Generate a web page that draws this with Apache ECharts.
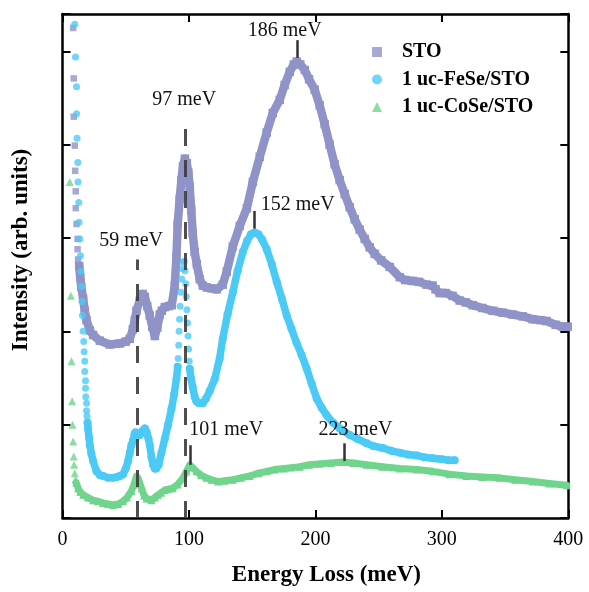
<!DOCTYPE html>
<html>
<head>
<meta charset="utf-8">
<script src="https://cdn.jsdelivr.net/npm/echarts@6/dist/echarts.min.js"></script>
<style>
  html, body { margin: 0; padding: 0; background: #fff; }
  #chart { width: 589px; height: 592px; }
</style>
</head>
<body>
<div id="chart"></div>
<script>
// x: energy loss (meV), y: intensity (arb. units, offset spectra)
const stoSparse = [[8.4,5.25],[8.9,4.71],[8.9,4.30],[9.7,3.99],[10.0,3.72],[10.5,3.50],[10.5,3.32],[11.1,3.15],[11.9,2.99],[11.9,2.88],[12.3,2.77]];
const stoBand = [[13.2,2.70],[14.0,2.58],[14.8,2.48],[16.3,2.35],[17.6,2.22],[19.0,2.12],[21.6,2.01],[24.2,1.96],[29.5,1.90],[37.4,1.86],[45.3,1.87],[50.0,1.89],[53.2,1.92],[55.6,2.02],[57.2,2.12],[58.5,2.22],[61.1,2.33],[63.5,2.40],[65.1,2.37],[67.0,2.27],[69.0,2.17],[71.0,2.05],[73.0,1.95],[75.0,2.04],[76.9,2.18],[78.5,2.22],[80.9,2.26],[84.0,2.27],[86.4,2.28],[88.8,2.49],[90.1,2.80],[91.1,3.15],[92.7,3.42],[94.0,3.62],[95.3,3.77],[96.8,3.85],[98.3,3.80],[99.5,3.70],[100.6,3.55],[101.8,3.30],[103.0,3.05],[104.5,2.85],[106.2,2.72],[108.5,2.56],[111.0,2.49],[114.1,2.47],[118.0,2.46],[122.0,2.45],[126.7,2.50],[129.9,2.64],[134.7,2.91],[140.2,3.13],[145.8,3.32],[150.5,3.60],[156.0,3.87],[161.5,4.13],[166.3,4.34],[171.8,4.48],[175.7,4.64],[179.7,4.78],[183.0,4.86],[185.2,4.89],[188.0,4.86],[191.6,4.80],[195.0,4.70],[199.4,4.59],[203.4,4.42],[207.3,4.22],[211.3,4.00],[215.2,3.79],[219.2,3.62],[223.2,3.47],[227.1,3.33],[231.1,3.20],[235.0,3.09],[239.0,2.99],[242.9,2.90],[246.9,2.83],[252.0,2.76],[258.8,2.69],[266.7,2.58],[271.0,2.55],[276.9,2.54],[282.0,2.53],[288.0,2.50],[292.7,2.49],[295.0,2.45],[298.3,2.41],[303.0,2.41],[308.5,2.38],[314.1,2.33],[319.0,2.31],[324.4,2.28],[332.0,2.25],[340.2,2.22],[348.0,2.20],[356.0,2.18],[364.0,2.16],[371.8,2.13],[378.0,2.12],[382.8,2.11],[390.0,2.07],[395.5,2.05],[399.5,2.05]];

const feseSparse = [[9.7,5.29],[10.3,4.94],[11.1,4.62],[11.1,4.33],[11.5,4.07],[12.1,3.81],[12.3,3.60],[12.9,3.38],[13.1,3.17],[13.7,2.99],[14.2,2.81],[14.6,2.64],[15.0,2.48],[15.5,2.32],[15.8,2.17],[16.3,2.00],[16.8,1.89],[17.1,1.78],[17.6,1.68],[17.6,1.57],[18.2,1.47],[18.2,1.39],[18.4,1.30],[19.0,1.23],[19.0,1.15],[19.4,1.09],
  [91.5,1.71],[91.9,1.85],[92.2,2.00],[92.6,2.13],[93.0,2.27],[93.7,2.42],[94.3,2.56],[94.9,2.67],[95.6,2.74],[96.3,2.75],[96.9,2.65],[97.5,2.51],[97.9,2.37],[98.4,2.23],[98.9,2.09],[99.3,1.95],[99.7,1.81],[100.2,1.68]];
const feseBandLow = [[19.8,1.02],[20.2,0.96],[21.0,0.86],[21.6,0.78],[22.8,0.69],[24.2,0.61],[26.9,0.50],[29.5,0.46],[32.1,0.45],[36.0,0.43],[40.0,0.43],[43.0,0.44],[45.3,0.45],[47.9,0.47],[50.0,0.53],[51.9,0.61],[53.2,0.70],[54.5,0.78],[55.8,0.83],[57.0,0.90],[57.7,0.92],[59.0,0.90],[61.1,0.89],[63.0,0.93],[65.1,0.96],[66.5,0.92],[68.0,0.85],[69.0,0.78],[70.4,0.65],[71.6,0.57],[73.0,0.53],[74.3,0.53],[76.0,0.57],[78.3,0.70],[80.9,0.85],[83.5,1.00],[86.2,1.17],[88.2,1.32],[90.1,1.49],[91.1,1.62]];
const feseBandHigh = [[100.6,1.60],[101.5,1.50],[103.0,1.40],[104.5,1.30],[105.9,1.25],[108.0,1.23],[110.9,1.23],[113.5,1.28],[116.4,1.36],[120.4,1.49],[124.3,1.71],[126.7,1.92],[130.5,2.18],[134.7,2.42],[138.5,2.65],[142.6,2.85],[146.0,2.97],[149.0,3.04],[152.0,3.06],[155.0,3.04],[158.0,2.98],[161.5,2.88],[165.5,2.72],[169.4,2.53],[173.5,2.35],[177.3,2.17],[181.0,2.03],[185.0,1.88],[189.0,1.75],[193.1,1.60],[197.0,1.44],[201.0,1.28],[205.0,1.18],[208.9,1.10],[214.0,1.02],[219.2,0.96],[227.1,0.89],[233.0,0.85],[240.6,0.80],[246.0,0.77],[253.2,0.75],[260.0,0.72],[266.7,0.70],[273.0,0.68],[280.1,0.67],[286.0,0.65],[292.7,0.64],[300.0,0.63],[305.0,0.62],[310.1,0.62]];

const coseSparse = [[5.8,3.60],[6.6,2.38],[7.1,1.68],[7.6,1.25],[7.9,1.00],[8.4,0.82],[8.9,0.66],[9.2,0.57],[9.7,0.48],[10.3,0.41]];
const coseBand = [[10.8,0.38],[12.3,0.32],[14.0,0.28],[16.3,0.25],[20.0,0.22],[24.2,0.19],[28.0,0.18],[32.1,0.16],[36.0,0.15],[40.0,0.14],[44.0,0.15],[47.9,0.18],[51.0,0.22],[54.5,0.29],[56.5,0.36],[58.5,0.45],[60.0,0.42],[61.2,0.37],[62.5,0.32],[64.5,0.24],[66.4,0.21],[70.4,0.19],[73.0,0.22],[75.6,0.25],[78.0,0.27],[80.9,0.30],[84.0,0.31],[87.2,0.32],[91.0,0.36],[95.3,0.43],[98.0,0.50],[100.6,0.57],[103.0,0.54],[105.9,0.50],[109.5,0.46],[113.8,0.43],[118.0,0.41],[123.0,0.39],[128.0,0.40],[134.7,0.41],[141.0,0.43],[148.0,0.45],[155.0,0.48],[161.5,0.50],[168.0,0.52],[175.0,0.53],[181.0,0.54],[187.6,0.55],[195.0,0.57],[203.0,0.58],[212.0,0.59],[221.6,0.60],[230.0,0.59],[240.6,0.57],[253.0,0.55],[266.7,0.53],[280.0,0.52],[292.7,0.50],[306.0,0.47],[319.6,0.45],[332.0,0.44],[345.7,0.43],[358.0,0.41],[371.8,0.39],[385.0,0.37],[398.7,0.35]];

// peak markers: energy, text, vertical extent of the marker line
const peakEnergy = [59, 97, 101, 152, 186, 223];
const peakText = ["59 meV", "97 meV", "101 meV", "152 meV", "186 meV", "223 meV"];
const markFrom = [0, 0, 0.57, 3.10, 4.93, 0.61];
const markTo = [2.77, 4.29, 0.78, 3.29, 5.12, 0.80];
const markDashed = [true, true, false, false, false, false];

const xTicks = [0, 100, 200, 300, 400];

const SERIF = "'Liberation Serif', 'Times New Roman', serif";
const C_STO = "#8f93c8";
const C_FESE = "#4ccaf6";
const C_COSE = "#70d58c";

// label offsets in px relative to the top of each marker line
const labelOffsets = [[-6, -19], [-1, -18], [36, -15], [43, -6], [-13, -9], [11, -14]];

const chart = echarts.init(document.getElementById("chart"), null, { renderer: "canvas" });

function scatterPart(name, data, symbol, size, color) {
  return {
    name, type: "scatter", data, symbol, symbolSize: size,
    itemStyle: { color }, z: 3, silent: true,
  };
}

function bandPart(name, data, symbol, size, width, color) {
  return {
    name, type: "line", data, symbol, symbolSize: size, showSymbol: true,
    lineStyle: { color, width, cap: "round", join: "round" },
    itemStyle: { color }, z: 2, silent: true,
  };
}

const markLines = peakEnergy.map((e, i) => [
  {
    coord: [e, markFrom[i]],
    lineStyle: markDashed[i]
      ? { color: "#3c3c3c", width: 3, type: [17, 14], opacity: 0.9 }
      : { color: "#333", width: 2.5, type: "solid" },
  },
  { coord: [e, markTo[i]] },
]);

const markPoints = peakEnergy.map((e, i) => ({
  name: peakText[i],
  coord: [e, markTo[i]],
  symbol: "circle",
  symbolSize: 1,
  itemStyle: { color: "rgba(0,0,0,0)" },
  label: {
    show: true, position: "inside", formatter: "{b}",
    offset: labelOffsets[i],
    color: "#111", fontFamily: SERIF, fontSize: 20,
  },
}));

const axisCommon = {
  type: "value",
  axisLine: { show: true, onZero: false, lineStyle: { color: "#000", width: 2.5 } },
  axisTick: { show: true, inside: true, length: 8, lineStyle: { color: "#000", width: 2 } },
  splitLine: { show: false },
};

chart.setOption({
  animation: false,
  backgroundColor: "#fff",
  grid: { left: 62.5, right: 20.7, top: 14, bottom: 72 },
  legend: {
    orient: "vertical", left: 367, top: 37,
    itemWidth: 10, itemHeight: 10, itemGap: 7.5,
    textStyle: { fontFamily: SERIF, fontWeight: "bold", fontSize: 20, color: "#000", lineHeight: 20, padding: [0, 0, 0, 15] },
    data: [
      { name: "STO", icon: "rect", itemStyle: { color: C_STO } },
      { name: "1 uc-FeSe/STO", icon: "circle", itemStyle: { color: C_FESE } },
      { name: "1 uc-CoSe/STO", icon: "triangle", itemStyle: { color: C_COSE } },
    ],
  },
  xAxis: [
    {
      ...axisCommon, position: "bottom", min: 0, max: 400, interval: 100,
      name: "Energy Loss (meV)", nameLocation: "middle", nameGap: 46,
      nameTextStyle: { fontFamily: SERIF, fontWeight: "bold", fontSize: 23, color: "#000", padding: [0, 0, 0, 22] },
      axisLabel: {
        color: "#000", fontFamily: SERIF, fontSize: 20, margin: 12,
        formatter: (v) => (xTicks.includes(v) ? String(v) : ""),
      },
    },
    { ...axisCommon, position: "top", min: 0, max: 400, interval: 100, axisLabel: { show: false } },
  ],
  yAxis: [
    {
      ...axisCommon, position: "left", min: 0, max: 5.4, interval: 1,
      name: "Intensity (arb. units)", nameLocation: "middle", nameGap: 30,
      nameTextStyle: { fontFamily: SERIF, fontWeight: "bold", fontSize: 23, color: "#000", padding: [0, 0, 0, 32] },
      axisLabel: { show: false },
    },
    { ...axisCommon, position: "right", min: 0, max: 5.4, interval: 1, axisLabel: { show: false } },
  ],
  series: [
    scatterPart("1 uc-CoSe/STO", coseSparse, "triangle", 8, C_COSE),
    bandPart("1 uc-CoSe/STO", coseBand, "triangle", 8, 7, C_COSE),
    scatterPart("STO", stoSparse, "rect", 6.5, C_STO),
    bandPart("STO", stoBand, "rect", 8.5, 8.5, C_STO),
    scatterPart("1 uc-FeSe/STO", feseSparse, "circle", 7, C_FESE),
    bandPart("1 uc-FeSe/STO", feseBandLow, "circle", 8, 7.5, C_FESE),
    bandPart("1 uc-FeSe/STO", feseBandHigh, "circle", 8, 7.5, C_FESE),
    {
      name: "peaks", type: "scatter", data: [], silent: true, z: 5,
      markLine: { silent: true, symbol: ["none", "none"], label: { show: false }, data: markLines, z: 5 },
      markPoint: { silent: true, data: markPoints, z: 6 },
    },
  ],
});

window.addEventListener("resize", () => chart.resize());
</script>
</body>
</html>
